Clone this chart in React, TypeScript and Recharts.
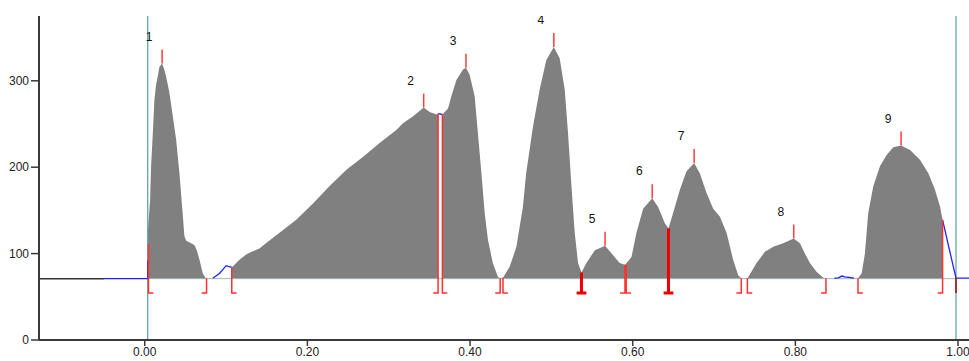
import React from "react";
import {
  ComposedChart,
  Area,
  Line,
  Scatter,
  XAxis,
  YAxis,
  ReferenceLine,
} from "recharts";

// ---- profile (gray filled trace), null = gap ----
const profileX = [
  0.004, 0.0066, 0.0078, 0.0099, 0.0119, 0.014, 0.016, 0.018, 0.0214, 0.024, 0.0263, 0.0304,
  0.0345, 0.0386, 0.0427, 0.046, 0.0488, 0.051, 0.0529, 0.057, 0.0611, 0.064, 0.0673, 0.0714,
  0.0747, 0.076, 0.09,
  0.107, 0.1165, 0.1247, 0.1288, 0.141, 0.149, 0.1657, 0.186, 0.2069, 0.227, 0.248, 0.2686,
  0.2888, 0.3093, 0.3175, 0.33, 0.343, 0.3503, 0.3593, 0.3607, 0.363,
  0.366, 0.3729, 0.377, 0.3832, 0.3914, 0.395, 0.3995, 0.4057, 0.4097, 0.414, 0.418, 0.422,
  0.428, 0.4343, 0.437, 0.4405, 0.4488, 0.4528, 0.457, 0.461, 0.465, 0.469, 0.4774, 0.4856,
  0.4938, 0.503, 0.5102, 0.5164, 0.5205, 0.5247, 0.5287, 0.5328, 0.537, 0.5431, 0.5534, 0.566,
  0.5759, 0.584, 0.5907, 0.5985, 0.6046, 0.6128, 0.624, 0.6313, 0.6395, 0.644, 0.6497, 0.658,
  0.666, 0.6755, 0.6825, 0.6908, 0.699, 0.7071, 0.7154, 0.7235, 0.7297, 0.7334, 0.737,
  0.7412, 0.7523, 0.7625, 0.7728, 0.785, 0.798, 0.8056, 0.8117, 0.8179, 0.826, 0.8343, 0.8376,
  0.857,
  0.877, 0.8815, 0.8855, 0.8896, 0.8958, 0.904, 0.9122, 0.9204, 0.93, 0.941, 0.9532, 0.9635,
  0.9717, 0.978, 0.981,
];
const profileY = [
  128, 162, 201, 239, 278, 296, 305, 316, 320, 313, 305, 286,
  259, 232, 193, 154, 120, 115, 114, 112, 110, 104, 93, 77,
  72, 71, null,
  84, 93, 99, 101, 106, 112, 124, 139, 158, 178, 197, 212,
  228, 243, 251, 259, 269, 264, 261, 262, null,
  261, 268, 282, 301, 313, 315, 307, 282, 239, 193, 147, 116,
  89, 73, 71.4, 72, 85, 96, 108, 131, 154, 193, 247, 290,
  324, 339, 326, 290, 239, 178, 124, 89, 78, 89, 104, 109,
  98, 89, 87, 96, 124, 152, 164, 154, 135, 129, 147, 174,
  195, 205, 193, 170, 152, 143, 124, 93, 75, 71.5, null,
  71.5, 89, 102, 108, 112, 117.4, 112, 100, 89, 79, 72, 71.5,
  null,
  71.5, 77, 100, 147, 178, 201, 214, 223, 225, 220, 208.5, 193,
  174, 154, 139,
];

// ---- blue trace segments (outside integrated peaks), null = gap ----
const blueX = [-0.05, 0.0037, 0.0037, 0.05, 0.0837, 0.0919, 0.1001, 0.104, 0.107, 0.2, 0.3607, 0.366, 0.6, 0.848, 0.853, 0.857, 0.861, 0.866, 0.872, 0.9, 0.981, 0.9975, 1.0135];
const blueY = [71, 71, 92, null, 71.5, 77, 86, 85, 84, null, 262, 261, null, 71.5, 72, 74, 73, 72.5, 71.5, null, 139, 71.5, 71.5];

// ---- peaks ----
const peakLabels = ["1", "2", "3", "4", "5", "6", "7", "8", "9"];
const peakX = [0.0214, 0.343, 0.395, 0.503, 0.566, 0.624, 0.6755, 0.798, 0.93];
const peakY = [320, 269, 315, 339, 109, 164, 205, 117.4, 225];

// ---- peak boundaries ----
const boundX = [0.0046, 0.076, 0.107, 0.3607, 0.366, 0.437, 0.4405, 0.537, 0.5905, 0.592, 0.644, 0.7335, 0.741, 0.8376, 0.877, 0.981, 0.9975];
const boundTop = [111, 71.5, 84, 262, 261, 71.5, 72, 78, 87, 87, 129, 71.5, 71.5, 71.5, 71.5, 139, 71.5];
const boundFoot = ["R", "L", "R", "L", "R", "L", "R", "B", "L", "R", "B", "L", "R", "L", "R", "L", "N"];
const boundKind = ["thin", "thin", "thin", "thin", "thin", "thin", "thin", "thick", "thin", "thin", "thick", "thin", "thin", "thin", "thin", "thin", "dark"];

const BASELINE = 71;
const FOOT_Y = 54.4;
const FOOT_DX = 0.006;
const xTicks = [0, 0.2, 0.4, 0.6, 0.8, 1.0];
const yTicks = [0, 100, 200, 300];
const markerX = [0.0037, 0.9975];

const profile = profileX.map((x, i) => ({ x, y: profileY[i] }));
const blue = blueX.map((x, i) => ({ x, y: blueY[i] }));
const peaks = peakX.map((x, i) => ({ x, y: peakY[i], label: peakLabels[i] }));

function boundData(kind: string) {
  const out: { x: number; y: number | null }[] = [];
  boundX.forEach((x, i) => {
    if (boundKind[i] !== kind) return;
    const f = boundFoot[i];
    out.push({ x, y: boundTop[i] });
    out.push({ x, y: FOOT_Y });
    if (f === "L" || f === "B") out.push({ x: x - FOOT_DX, y: FOOT_Y });
    if (f === "B") out.push({ x: x + FOOT_DX, y: FOOT_Y });
    if (f === "R") out.push({ x: x + FOOT_DX, y: FOOT_Y });
    out.push({ x: x + 0.001, y: null });
  });
  return out;
}

const PeakShape = (props: any) => {
  const { cx, cy, payload } = props;
  if (cx == null || cy == null) return null;
  return (
    <g>
      <line x1={cx} y1={cy} x2={cx} y2={cy - 14} stroke="#ff3b3b" strokeWidth={1.5} />
      <text
        x={cx - 13}
        y={cy - 27}
        textAnchor="middle"
        dominantBaseline="central"
        fontSize={12}
        fontFamily="Liberation Sans, Arial, sans-serif"
        fill="#111"
      >
        {payload.label}
      </text>
    </g>
  );
};

export default function App() {
  return (
    <div style={{ position: "absolute", left: 0, top: 0, background: "#fff" }}>
      <ComposedChart
        width={969}
        height={361}
        margin={{ top: 16, right: 0, left: 0, bottom: 0 }}
      >
        <XAxis
          dataKey="x"
          type="number"
          domain={[-0.13, 1.0135]}
          allowDataOverflow
          ticks={xTicks}
          tickFormatter={(v: number) => v.toFixed(2)}
          height={21}
          tickSize={6}
          tickMargin={1}
          axisLine={{ stroke: "#3a3a3a", strokeWidth: 2 }}
          tickLine={{ stroke: "#3a3a3a", strokeWidth: 1.5 }}
          tick={{ fontSize: 12, fill: "#222", fontFamily: "Liberation Sans, Arial, sans-serif" }}
        />
        <YAxis
          type="number"
          domain={[0, 375]}
          allowDataOverflow
          ticks={yTicks}
          width={39}
          tickSize={8}
          tickMargin={2}
          axisLine={{ stroke: "#3a3a3a", strokeWidth: 2 }}
          tickLine={{ stroke: "#3a3a3a", strokeWidth: 1.5 }}
          tick={{ fontSize: 12, fill: "#222", fontFamily: "Liberation Sans, Arial, sans-serif" }}
        />
        <ReferenceLine
          segment={[{ x: -0.13, y: BASELINE }, { x: -0.05, y: BASELINE }]}
          stroke="#333"
          strokeWidth={1.5}
        />
        <Area
          data={profile}
          dataKey="y"
          type="linear"
          baseValue={BASELINE}
          fill="#808080"
          fillOpacity={1}
          stroke="none"
          connectNulls={false}
          isAnimationActive={false}
        />
        <ReferenceLine
          segment={[{ x: markerX[0], y: BASELINE }, { x: markerX[1], y: BASELINE }]}
          stroke="#9fb6b6"
          strokeWidth={1}
        />
        {markerX.map((mx) => (
          <ReferenceLine key={mx} x={mx} stroke="#5a9e9e" strokeWidth={1.2} />
        ))}
        <Line
          data={blue}
          dataKey="y"
          type="linear"
          stroke="#2020ff"
          strokeWidth={1.3}
          dot={false}
          connectNulls={false}
          isAnimationActive={false}
        />
        <Line
          data={boundData("thin")}
          dataKey="y"
          type="linear"
          stroke="#ff3030"
          strokeWidth={1.5}
          dot={false}
          connectNulls={false}
          isAnimationActive={false}
        />
        <Line
          data={boundData("thick")}
          dataKey="y"
          type="linear"
          stroke="#ee0000"
          strokeWidth={3}
          dot={false}
          connectNulls={false}
          isAnimationActive={false}
        />
        <Line
          data={boundData("dark")}
          dataKey="y"
          type="linear"
          stroke="#aa0000"
          strokeWidth={1.5}
          dot={false}
          connectNulls={false}
          isAnimationActive={false}
        />
        <Scatter
          data={peaks}
          dataKey="y"
          shape={PeakShape}
          isAnimationActive={false}
        />
      </ComposedChart>
    </div>
  );
}
